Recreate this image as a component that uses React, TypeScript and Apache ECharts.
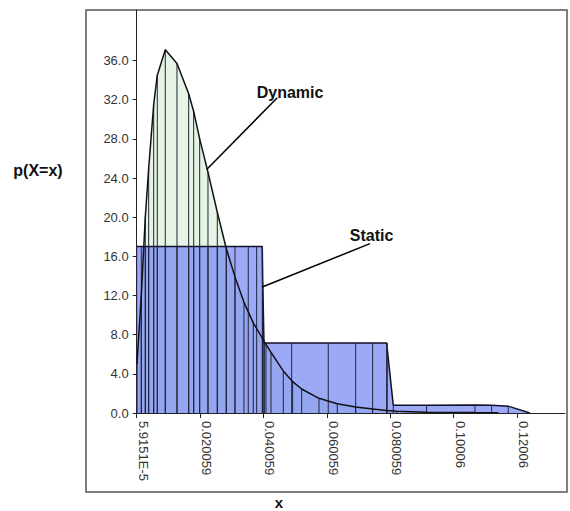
import React, { useEffect, useRef } from "react";
import * as echarts from "echarts";

// ---- data ----
const xTickValues = [5.9151e-5, 0.020059, 0.040059, 0.060059, 0.080059, 0.10006, 0.12006];
const xTickLabels = ["5.9151E-5", "0.020059", "0.040059", "0.060059", "0.080059", "0.10006", "0.12006"];
const yTickValues = [0, 4, 8, 12, 16, 20, 24, 28, 32, 36];

const dynamicX = [
  0.00015, 0.00151, 0.00277, 0.00384, 0.00542, 0.00656, 0.00908, 0.01277, 0.01646, 0.01804,
  0.01993, 0.02255, 0.02549, 0.02832, 0.03107, 0.03391, 0.03684, 0.03981, 0.04031, 0.04243,
  0.04631, 0.04927, 0.05211, 0.05757, 0.06334, 0.06915, 0.07451, 0.07892, 0.08208, 0.09154,
  0.10678, 0.11413,
];
const dynamicY = [
  5.0, 12.0, 20.0, 25.0, 31.5, 34.5, 37.1, 35.7, 32.6, 30.8,
  28.0, 24.6, 20.5, 16.8, 13.9, 11.3, 9.2, 7.6, 7.3, 6.2,
  4.3, 3.2, 2.45, 1.5, 0.95, 0.62, 0.4, 0.25, 0.17, 0.08,
  0.04, 0.03,
];

const staticX = [
  5.9151e-5, 0.00151, 0.00277, 0.00384, 0.00542, 0.00656, 0.00908, 0.01277, 0.01646, 0.01804,
  0.01993, 0.02255, 0.02549, 0.02832, 0.03107, 0.03526, 0.03791, 0.03968, 0.03984, 0.04022,
  0.04085, 0.04896, 0.0605, 0.06915, 0.07451, 0.07892, 0.07911, 0.08101, 0.09154, 0.10678,
  0.11205, 0.11728, 0.12413,
];
const staticY = [
  17.0, 17.0, 17.0, 17.0, 17.0, 17.0, 17.0, 17.0, 17.0, 17.0,
  17.0, 17.0, 17.0, 17.0, 17.0, 17.0, 17.0, 17.0, 13.3, 7.15,
  7.15, 7.15, 7.15, 7.15, 7.15, 7.15, 7.15, 0.8, 0.8, 0.82,
  0.8, 0.7, 0.0,
];

const xMin = 5.9151e-5;
const xMax = 0.1352;
const yMax = 41.16;

// annotations (data units)
const dynamicLabel = { text: "Dynamic", at: [0.04844, 32.7] };
const dynamicLeader = [[0.04441, 32.2], [0.02214, 24.86]];
const staticLabel = { text: "Static", at: [0.07419, 18.15] };
const staticLeader = [[0.07366, 17.3], [0.03968, 12.87]];

const FONT = '"Liberation Sans", Arial, sans-serif';

const zip = (xs: number[], ys: number[]) => xs.map((x, i) => [x, ys[i]]);

const dropLines = (name: string, data: number[][], z: number) => ({
  type: "custom",
  name,
  z,
  data,
  silent: true,
  renderItem: (_p: any, api: any) => {
    const top = api.coord([api.value(0), api.value(1)]);
    const bot = api.coord([api.value(0), 0]);
    return {
      type: "line",
      shape: { x1: top[0], y1: top[1], x2: bot[0], y2: bot[1] },
      style: { stroke: "#22223a", lineWidth: 1 },
    };
  },
});

export default function App() {
  const ref = useRef<HTMLDivElement>(null);
  useEffect(() => {
    if (!ref.current) return;
    const chart = echarts.init(ref.current, null, { renderer: "svg" });
    const dyn = zip(dynamicX, dynamicY);
    const stat = zip(staticX, staticY);
    chart.setOption({
      animation: false,
      backgroundColor: "#fff",
      grid: { left: 136.7, right: 5, top: 10, bottom: 98, containLabel: false },
      xAxis: {
        type: "value",
        min: xMin,
        max: xMax,
        splitLine: { show: false },
        axisLine: { show: true, onZero: false, lineStyle: { color: "#222", width: 1 } },
        axisTick: { show: true, length: 5, customValues: xTickValues, lineStyle: { color: "#222" } },
        axisLabel: {
          customValues: xTickValues,
          rotate: -90,
          margin: 8,
          verticalAlign: "bottom",
          fontFamily: FONT,
          fontSize: 13,
          color: "#333",
          formatter: (v: number) => {
            let best = 0;
            xTickValues.forEach((t, i) => {
              if (Math.abs(t - v) < Math.abs(xTickValues[best] - v)) best = i;
            });
            return xTickLabels[best];
          },
        },
      },
      yAxis: {
        type: "value",
        min: 0,
        max: yMax,
        splitLine: { show: false },
        axisLine: { show: true, lineStyle: { color: "#222", width: 1 } },
        axisTick: { show: true, length: 4, customValues: yTickValues, lineStyle: { color: "#222" } },
        axisLabel: {
          customValues: yTickValues,
          margin: 8,
          fontFamily: FONT,
          fontSize: 13,
          color: "#333",
          formatter: (v: number) => v.toFixed(1),
        },
      },
      series: [
        {
          type: "line",
          name: "Dynamic area",
          data: dyn,
          z: 1,
          showSymbol: false,
          lineStyle: { width: 0, opacity: 0 },
          areaStyle: { color: "#e5f4e4", opacity: 1 },
        },
        {
          type: "line",
          name: "Static",
          data: stat,
          z: 2,
          showSymbol: false,
          lineStyle: { color: "#10102a", width: 1.5 },
          areaStyle: { color: "rgb(118,136,244)", opacity: 0.72 },
        },
        dropLines("Dynamic drops", dyn, 3),
        dropLines("Static drops", stat, 3),
        {
          type: "line",
          name: "Dynamic",
          data: dyn,
          z: 4,
          showSymbol: false,
          lineStyle: { color: "#111", width: 1.5 },
        },
      ],
    });

    const px = (p: number[]) => chart.convertToPixel({ gridIndex: 0 }, p) as number[];
    const dl0 = px(dynamicLeader[0]);
    const dl1 = px(dynamicLeader[1]);
    const sl0 = px(staticLeader[0]);
    const sl1 = px(staticLeader[1]);
    const dLab = px(dynamicLabel.at);
    const sLab = px(staticLabel.at);
    const textEl = (text: string, x: number, y: number, size: number) => ({
      type: "text",
      z: 10,
      style: {
        text,
        x,
        y,
        textAlign: "center",
        textVerticalAlign: "middle",
        font: `bold ${size}px ${FONT}`,
        fill: "#111",
      },
    });
    chart.setOption({
      graphic: [
        {
          type: "rect",
          z: -10,
          shape: { x: 86, y: 10, width: 481, height: 482 },
          style: { fill: "none", stroke: "#555", lineWidth: 1.5 },
        },
        {
          type: "line",
          z: 10,
          shape: { x1: dl0[0], y1: dl0[1], x2: dl1[0], y2: dl1[1] },
          style: { stroke: "#000", lineWidth: 1.5 },
        },
        {
          type: "line",
          z: 10,
          shape: { x1: sl0[0], y1: sl0[1], x2: sl1[0], y2: sl1[1] },
          style: { stroke: "#000", lineWidth: 1.5 },
        },
        textEl(dynamicLabel.text, dLab[0], dLab[1], 16),
        textEl(staticLabel.text, sLab[0], sLab[1], 16),
        textEl("p(X=x)", 38, 170, 16),
        textEl("x", 279, 502, 15),
      ],
    });
    return () => chart.dispose();
  }, []);
  return (
    <div
      ref={ref}
      style={{ position: "fixed", left: 0, top: 0, width: 570, height: 511, background: "#fff" }}
    />
  );
}
